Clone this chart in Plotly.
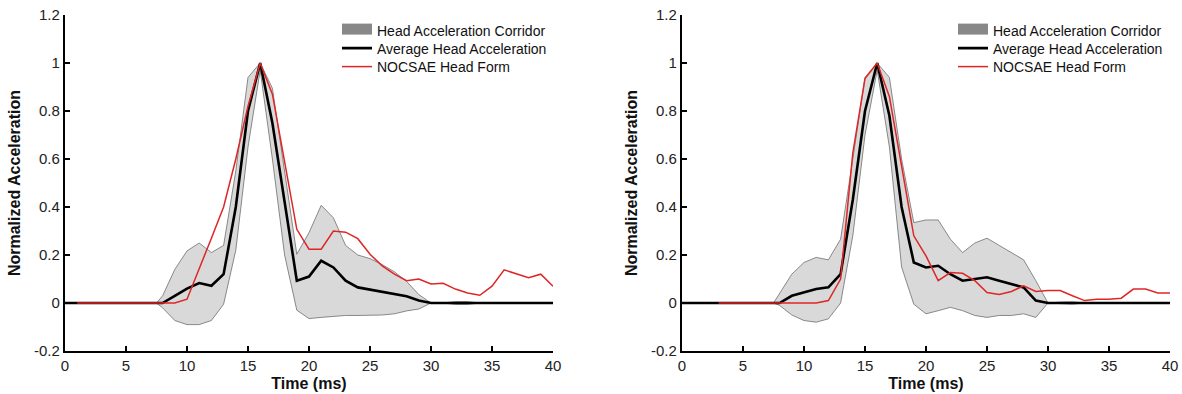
import plotly.graph_objects as go

# ---------------- data ----------------
time_ms = [0, 1, 2, 3, 4, 5, 6, 7, 8, 9, 10, 11, 12, 13, 14, 15, 16, 17, 18, 19, 20,
           21, 22, 23, 24, 25, 26, 27, 28, 29, 30, 31, 32, 33, 34, 35, 36, 37, 38, 39, 40]

# Left panel
avg_left = [0, 0, 0, 0, 0, 0, 0, 0, 0, 0.03, 0.06, 0.083, 0.072, 0.12, 0.40, 0.80, 1.0, 0.75, 0.42, 0.093, 0.11,
            0.176, 0.148, 0.093, 0.065, 0.056, 0.045, 0.035, 0.028, 0.01, 0, 0, 0, 0, 0, 0, 0, 0, 0, 0, 0]
nocsae_left = [None, 0, 0, 0, 0, 0, 0, 0, 0, 0, 0.016, 0.14, 0.27, 0.40, 0.60, 0.82, 1.0, 0.87, 0.59, 0.307, 0.224,
               0.224, 0.30, 0.295, 0.268, 0.203, 0.155, 0.12, 0.093, 0.10, 0.079, 0.082, 0.058, 0.042, 0.032, 0.07,
               0.138, 0.12, 0.105, 0.12, 0.07]

corridor_t = [7.5, 8, 9, 10, 11, 12, 13, 14, 15, 16, 17, 18, 19, 20, 21, 22, 23, 24, 25, 26, 27, 28, 29, 30,
              31, 32, 33, 34]
upper_left = [0, 0.03, 0.14, 0.217, 0.25, 0.21, 0.24, 0.55, 0.94, 1.0, 0.895, 0.55, 0.203, 0.293, 0.407, 0.355,
              0.24, 0.2, 0.185, 0.16, 0.13, 0.09, 0.035, 0, 0, 0.006, 0.006, 0]
lower_left = [0, -0.02, -0.073, -0.09, -0.09, -0.073, -0.005, 0.22, 0.65, 0.97, 0.6, 0.2, -0.03, -0.065, -0.06,
              -0.055, -0.052, -0.052, -0.052, -0.05, -0.045, -0.033, -0.025, 0, 0, -0.006, -0.006, 0]

# Right panel
avg_right = [0, 0, 0, 0, 0, 0, 0, 0, 0, 0.03, 0.044, 0.058, 0.065, 0.12, 0.43, 0.80, 1.0, 0.78, 0.40, 0.169, 0.148,
             0.155, 0.12, 0.093, 0.10, 0.107, 0.093, 0.079, 0.065, 0.01, 0, 0, 0, 0, 0, 0, 0, 0, 0, 0, 0]
nocsae_right = [None, None, None, 0, 0, 0, 0, 0, 0, 0, 0, 0, 0.01, 0.10, 0.625, 0.935, 1.0, 0.86, 0.57, 0.28, 0.196,
                0.093, 0.127, 0.124, 0.093, 0.044, 0.035, 0.048, 0.072, 0.048, 0.052, 0.052, 0.03, 0.01, 0.016,
                0.016, 0.02, 0.058, 0.058, 0.042, 0.042]
upper_right = [0, 0.04, 0.12, 0.169, 0.19, 0.18, 0.266, 0.6, 0.94, 1.0, 0.94, 0.6, 0.335, 0.346, 0.346, 0.266,
               0.21, 0.25, 0.27, 0.24, 0.21, 0.18, 0.093, 0, 0.004, 0.005, 0, 0]
lower_right = [0, -0.01, -0.05, -0.073, -0.08, -0.066, 0, 0.28, 0.7, 0.97, 0.65, 0.15, -0.005, -0.045, -0.032,
               -0.018, -0.032, -0.052, -0.06, -0.052, -0.052, -0.045, -0.06, 0, -0.004, -0.005, 0, 0]

x_ticks = [0, 5, 10, 15, 20, 25, 30, 35, 40]
y_ticks = [-0.2, 0, 0.2, 0.4, 0.6, 0.8, 1, 1.2]
y_tick_text = ["-0.2", "0", "0.2", "0.4", "0.6", "0.8", "1", "1.2"]

names = ["Head Acceleration Corridor", "Average Head Acceleration", "NOCSAE Head Form"]

# ---------------- styles ----------------
FILL = "rgb(217,217,217)"
EDGE = "rgb(110,110,110)"
SWATCH = "rgb(136,136,136)"
RED = "rgb(222,38,38)"
FONT = "Liberation Sans, Arial, sans-serif"
W, H = 1182, 394

fig = go.Figure()

panels = [
    (avg_left, nocsae_left, upper_left, lower_left, "x", "y", ["legend", "legend2", "legend3"]),
    (avg_right, nocsae_right, upper_right, lower_right, "x2", "y2", ["legend4", "legend5", "legend6"]),
]

for avg, noc, up, lo, xa, ya, lgs in panels:
    poly_x = corridor_t + corridor_t[::-1]
    poly_y = up + lo[::-1]
    fig.add_trace(go.Scatter(x=poly_x, y=poly_y, xaxis=xa, yaxis=ya, mode="lines", fill="toself",
                             fillcolor=FILL, line=dict(color=EDGE, width=0.8), showlegend=False,
                             hoverinfo="skip"))
    # legend swatch for corridor (legend-only entry)
    fig.add_trace(go.Scatter(x=[None], y=[None], xaxis=xa, yaxis=ya, mode="lines", fill="toself",
                             fillcolor=SWATCH, line=dict(color=SWATCH, width=10), name=names[0],
                             legend=lgs[0], showlegend=True))
    fig.add_trace(go.Scatter(x=time_ms, y=avg, xaxis=xa, yaxis=ya, mode="lines",
                             line=dict(color="black", width=2.6), name=names[1], legend=lgs[1]))
    fig.add_trace(go.Scatter(x=time_ms, y=noc, xaxis=xa, yaxis=ya, mode="lines",
                             line=dict(color=RED, width=1.5), name=names[2], legend=lgs[2]))


def sx(px):
    return px / W


def sy(py):
    return 1 - py / H


xdom1 = [sx(65), sx(553)]
xdom2 = [sx(682), sx(1170)]
ydom = [sy(351), sy(15)]

axis_common = dict(showgrid=False, zeroline=False, showline=True, linecolor="black", linewidth=2.2,
                   ticks="inside", ticklen=5, tickwidth=2, tickcolor="black", automargin=False,
                   ticklabeloverflow="allow",
                   tickfont=dict(family=FONT, size=15, color="#222"))

xaxis_cfg = dict(axis_common, range=[0, 40], tickvals=x_ticks,
                 title=dict(text="<b>Time (ms)</b>", font=dict(family=FONT, size=16, color="#111"), standoff=5))
yaxis_cfg = dict(axis_common, range=[-0.2, 1.2], tickvals=y_ticks, ticktext=y_tick_text,
                 title=dict(text="<b>Normalized Acceleration</b>", font=dict(family=FONT, size=16, color="#111"),
                            standoff=9))


def legend_cfg(px_x, px_y):
    return dict(x=sx(px_x), y=sy(px_y), xanchor="left", yanchor="middle", bgcolor="rgba(0,0,0,0)",
                font=dict(family=FONT, size=14, color="#111"), tracegroupgap=0, itemwidth=30,
                borderwidth=0)


row_y = [31, 48.5, 67]
lx1, lx2 = 337, 953
fig.update_layout(
    width=W, height=H,
    margin=dict(l=0, r=0, t=0, b=0),
    paper_bgcolor="white", plot_bgcolor="white",
    font=dict(family=FONT, color="#111"),
    xaxis=dict(xaxis_cfg, domain=xdom1, anchor="y"),
    yaxis=dict(yaxis_cfg, domain=ydom, anchor="x"),
    xaxis2=dict(xaxis_cfg, domain=xdom2, anchor="y2"),
    yaxis2=dict(yaxis_cfg, domain=ydom, anchor="x2"),
    legend=legend_cfg(lx1, row_y[0]),
    legend2=legend_cfg(lx1, row_y[1]),
    legend3=legend_cfg(lx1, row_y[2]),
    legend4=legend_cfg(lx2, row_y[0]),
    legend5=legend_cfg(lx2, row_y[1]),
    legend6=legend_cfg(lx2, row_y[2]),
    showlegend=True,
)

# place the figure flush with the page corner (no default body margin / scrollbars)
fig.write_html("out.html", config={"displayModeBar": False},
               post_script="document.body.style.margin='0px';document.body.style.overflow='hidden';")
